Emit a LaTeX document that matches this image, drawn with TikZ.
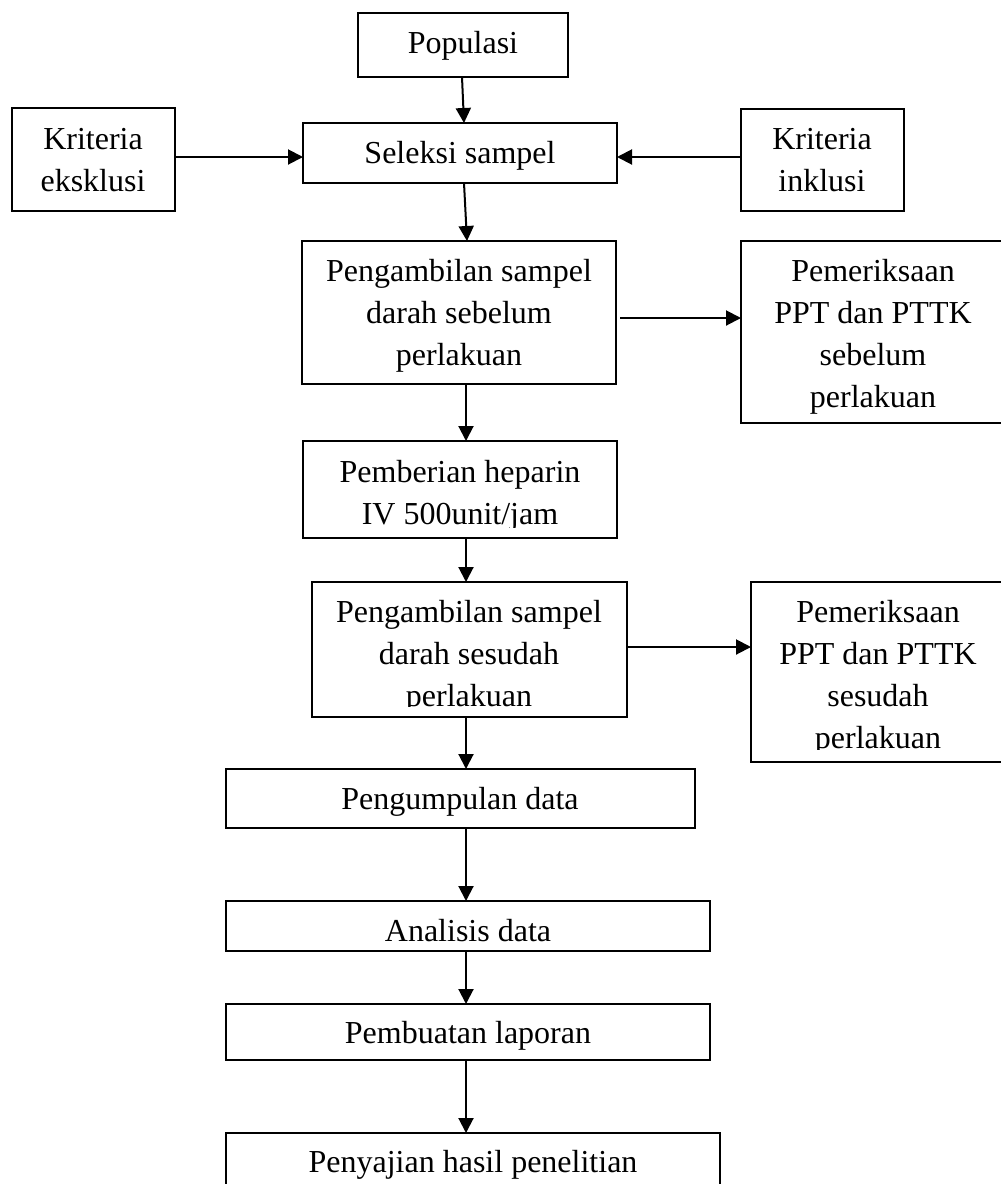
\documentclass[tikz,border=0pt]{standalone}
\usepackage{fontspec}
\setmainfont{Liberation Serif}
\usetikzlibrary{arrows.meta}
\newcommand{\mylines}[1]{\begin{tabular}[t]{@{}c@{}}#1\end{tabular}}
\tikzset{
  box/.style={draw, line width=1pt, anchor=north west, inner sep=0pt, outer sep=0pt},
  txt/.style={anchor=base, inner sep=0pt, font=\fontsize{16}{21}\selectfont},
  arr/.style={line width=1pt, -{Triangle[length=7.5pt,width=7.5pt]}}
}
\begin{document}
\begin{tikzpicture}[x=0.5pt,y=-0.5pt]
\useasboundingbox (0,0) rectangle (1001,1184);
\clip (0,0) rectangle (1001,1184);
% boxes
\node[box, minimum width=105pt, minimum height=32pt] (pop) at (358,13) {};
\node[box, minimum width=157pt, minimum height=30pt] (sel) at (303,123) {};
\node[box, minimum width=81.5pt, minimum height=51.5pt] (eks) at (12,108) {};
\node[box, minimum width=81.5pt, minimum height=51pt] (ink) at (741,109) {};
\node[box, minimum width=157pt, minimum height=71.5pt] (amb1) at (302,241) {};
\node[box, minimum width=135pt, minimum height=91pt] (pem1) at (741,241) {};
\node[box, minimum width=157pt, minimum height=48.5pt] (hep) at (303,441) {};
\node[box, minimum width=157.5pt, minimum height=67.5pt] (amb2) at (312,582) {};
\node[box, minimum width=130pt, minimum height=90pt] (pem2) at (751,582) {};
\node[box, minimum width=234.5pt, minimum height=29.5pt] (kum) at (226,769) {};
\node[box, minimum width=242pt, minimum height=25pt] (ana) at (226,901) {};
\node[box, minimum width=242pt, minimum height=28pt] (lap) at (226,1004) {};
\node[box, minimum width=247pt, minimum height=40pt] (saj) at (226,1133) {};
% texts
\node[txt] (tpop) at (463,53) {Populasi};
\node[txt] (tsel) at (460,163) {Seleksi sampel};
\node[txt] (teks) at (93,149) {\mylines{Kriteria\\eksklusi}};
\node[txt] (tink) at (822,149) {\mylines{Kriteria\\inklusi}};
\node[txt] (tamb1) at (459,281) {\mylines{Pengambilan sampel\\darah sebelum\\perlakuan}};
\node[txt] (tpem1) at (873,281) {\mylines{Pemeriksaan\\PPT dan PTTK\\sebelum\\perlakuan}};
\begin{scope}
\clip (hep.north west) rectangle ([yshift=5.5pt]hep.south east);
\node[txt] (thep) at (460,482) {\mylines{Pemberian heparin\\IV 500unit/jam}};
\end{scope}
\begin{scope}
\clip (amb2.north west) rectangle ([yshift=5.5pt]amb2.south east);
\node[txt] (tamb2) at (469,622) {\mylines{Pengambilan sampel\\darah sesudah\\perlakuan}};
\end{scope}
\begin{scope}
\clip (pem2.north west) rectangle ([yshift=6.5pt]pem2.south east);
\node[txt] (tpem2) at (878,622) {\mylines{Pemeriksaan\\PPT dan PTTK\\sesudah\\perlakuan}};
\end{scope}
\node[txt] (tkum) at (460,809) {Pengumpulan data};
\node[txt] (tana) at (468,941) {Analisis data};
\node[txt] (tlap) at (468,1043) {Pembuatan laporan};
\node[txt] (tsaj) at (473,1172) {Penyajian hasil penelitian};
% connectors
\draw[arr] ([xshift=-0.5pt]pop.south) -- ([xshift=2pt]sel.north);
\draw[arr] ([yshift=1.25pt]eks.east) -- ([yshift=1.25pt]eks.east -| sel.west);
\draw[arr] ([yshift=1.5pt]ink.west) -- ([yshift=1.5pt]ink.west -| sel.east);
\draw[arr] ([xshift=2pt]sel.south) -- ([xshift=4pt]amb1.north);
\draw[arr] ([xshift=2pt,yshift=-2.75pt]amb1.east) -- ([yshift=-2.75pt]amb1.east -| pem1.west);
\draw[arr] ([xshift=3.5pt]amb1.south) -- ([xshift=3.5pt]amb1.south |- hep.north);
\draw[arr] ([xshift=3pt]hep.south) -- ([xshift=3pt]hep.south |- amb2.north);
\draw[arr] ([yshift=1.25pt]amb2.east) -- ([yshift=1.25pt]amb2.east -| pem2.west);
\draw[arr] ([xshift=-1.75pt]amb2.south) -- ([xshift=-1.75pt]amb2.south |- kum.north);
\draw[arr] ([xshift=2.75pt]kum.south) -- ([xshift=2.75pt]kum.south |- ana.north);
\draw[arr] ([xshift=-1pt]ana.south) -- ([xshift=-1pt]ana.south |- lap.north);
\draw[arr] ([xshift=-1pt]lap.south) -- ([xshift=-1pt]lap.south |- saj.north);
\end{tikzpicture}
\end{document}
